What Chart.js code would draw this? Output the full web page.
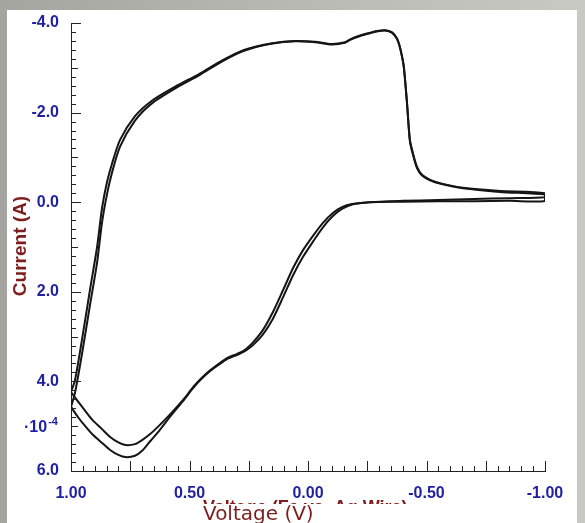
<!DOCTYPE html>
<html>
<head>
<meta charset="utf-8">
<script src="https://cdn.jsdelivr.net/npm/chart.js@4/dist/chart.umd.min.js"></script>
<style>
    body { margin: 0; width: 585px; height: 523px; overflow: hidden;
        background: linear-gradient(90deg, #a4a59f 0%, #b8b9b3 50%, #c8c9c3 100%); }
    #panel { position: absolute; left: 7px; top: 10px; width: 570px; height: 513px; background: #fff; }
    #cv { position: absolute; left: 0; top: 0; }
</style>
</head>
<body>
<div id="panel"></div>
<canvas id="cv" width="585" height="523"></canvas>
<script>
// forward sweep (1.00 V -> -1.00 V), shared voltage grid
const fwdVolt = [1.00, 0.97, 0.94, 0.91, 0.87, 0.835, 0.80, 0.77, 0.73, 0.70, 0.665, 0.625, 0.59, 0.553, 0.52, 0.485, 0.45, 0.413, 0.375, 0.342, 0.31, 0.287, 0.26, 0.232, 0.19, 0.148, 0.105, 0.063, 0.021, -0.021, -0.063, -0.105, -0.143, -0.186, -0.26, -0.40, -0.55, -0.70, -0.85, -1.00];
const fwdCur1 = [4.24, 4.45, 4.66, 4.86, 5.06, 5.24, 5.36, 5.42, 5.40, 5.31, 5.17, 4.97, 4.78, 4.57, 4.37, 4.13, 3.93, 3.75, 3.60, 3.48, 3.41, 3.36, 3.27, 3.13, 2.85, 2.45, 1.96, 1.47, 1.07, 0.75, 0.46, 0.24, 0.11, 0.04, 0.00, -0.01, -0.02, -0.02, -0.03, -0.03];
const fwdCur2 = [4.57, 4.80, 5.00, 5.18, 5.37, 5.53, 5.64, 5.69, 5.66, 5.55, 5.33, 5.08, 4.84, 4.60, 4.39, 4.15, 3.95, 3.77, 3.62, 3.50, 3.43, 3.38, 3.30, 3.19, 2.95, 2.60, 2.12, 1.63, 1.22, 0.88, 0.56, 0.31, 0.15, 0.05, 0.00, -0.03, -0.05, -0.07, -0.09, -0.11];

// reverse sweep (-1.00 V -> 1.00 V)
const revVolt = [-1.00, -0.81, -0.654, -0.56, -0.515, -0.48, -0.46, -0.445, -0.43, -0.418, -0.405, -0.397, -0.385, -0.375, -0.355, -0.325, -0.29, -0.26, -0.22, -0.18, -0.156, -0.10, -0.03, 0.055, 0.15, 0.27, 0.36, 0.46, 0.56, 0.66, 0.73, 0.793, 0.827, 0.848, 0.869, 0.89, 0.92, 0.954, 0.983, 1.00];
const revCur1 = [-0.20, -0.25, -0.32, -0.42, -0.50, -0.62, -0.79, -1.05, -1.39, -2.21, -3.00, -3.25, -3.52, -3.66, -3.79, -3.84, -3.82, -3.78, -3.72, -3.64, -3.57, -3.53, -3.58, -3.60, -3.55, -3.40, -3.17, -2.86, -2.58, -2.26, -1.92, -1.39, -0.86, -0.45, 0.13, 1.00, 1.96, 3.08, 3.97, 4.24];
const revCur2 = [-0.17, -0.23, -0.31, -0.41, -0.49, -0.60, -0.76, -1.02, -1.36, -2.18, -2.98, -3.24, -3.51, -3.65, -3.78, -3.83, -3.81, -3.77, -3.71, -3.63, -3.56, -3.52, -3.57, -3.59, -3.54, -3.38, -3.15, -2.83, -2.54, -2.20, -1.82, -1.24, -0.66, -0.18, 0.45, 1.35, 2.30, 3.40, 4.25, 4.57];

const xLabelVals = [1.00, 0.50, 0.00, -0.50, -1.00];
const yLabelVals = [-4.0, -2.0, 0.0, 2.0, 4.0, 6.0];

function pts(volt, cur) {
    return volt.map((v, i) => ({ x: v, y: cur[i] }));
}

const blue = '#1f1fa3';
const darkRed = '#7d1d1d';

// inward tick marks, axis titles and the 10^-4 factor
const decorations = {
    id: 'decorations',
    afterDraw(chart) {
        const c = chart.ctx;
        const xs = chart.scales.x, ys = chart.scales.y;
        const left = chart.chartArea.left, bottom = chart.chartArea.bottom;
        c.save();
        c.strokeStyle = '#222';
        c.lineWidth = 1;
        c.beginPath();
        for (let i = 0; i <= 40; i++) {
            const v = -1 + i * 0.05;
            const px = Math.round(xs.getPixelForValue(v)) + 0.5;
            const len = (i % 5 === 0) ? 10 : 5;
            c.moveTo(px, bottom);
            c.lineTo(px, bottom - len);
        }
        for (let i = 0; i <= 50; i++) {
            const v = -4 + i * 0.2;
            const py = Math.round(ys.getPixelForValue(v)) + 0.5;
            let len = 5;
            if (i % 10 === 0) len = 10;
            else if (i % 5 === 0) len = 7;
            c.moveTo(left, py);
            c.lineTo(left + len, py);
        }
        c.stroke();

        // y title
        c.fillStyle = darkRed;
        c.font = 'bold 19px "Liberation Sans", Arial, sans-serif';
        c.textAlign = 'center';
        c.textBaseline = 'middle';
        c.translate(21, 246);
        c.rotate(-Math.PI / 2);
        c.fillText('Current (A)', 0, 0);
        c.restore();

        // exponent factor
        c.save();
        c.fillStyle = blue;
        c.font = 'bold 16px "Liberation Sans", Arial, sans-serif';
        c.textBaseline = 'alphabetic';
        c.textAlign = 'left';
        c.fillText('\u00b710', 24, 432);
        const w = c.measureText('\u00b710').width;
        c.font = 'bold 11px "Liberation Sans", Arial, sans-serif';
        c.fillText('-4', 24 + w + 1, 425);
        c.restore();

        // old x title, mostly hidden behind the new one
        c.save();
        c.beginPath();
        c.rect(0, 494, 585, 10);
        c.clip();
        c.fillStyle = darkRed;
        c.font = 'bold 18px "Liberation Sans", Arial, sans-serif';
        c.textAlign = 'left';
        c.textBaseline = 'alphabetic';
        c.fillText('Voltage (Fe vs. Ag Wire)', 203, 513);
        c.restore();

        c.save();
        c.fillStyle = darkRed;
        c.font = '20px "DejaVu Sans", sans-serif';
        c.textAlign = 'left';
        c.textBaseline = 'alphabetic';
        c.fillText('Voltage (V)', 203, 520);
        c.restore();
    }
};

const lineStyle = { showLine: true, pointRadius: 0, borderColor: '#151515', borderWidth: 2, tension: 0.25, fill: false };

new Chart(document.getElementById('cv').getContext('2d'), {
    type: 'scatter',
    data: {
        datasets: [
            Object.assign({ label: 'cycle 1', data: pts(fwdVolt, fwdCur1).concat(pts(revVolt, revCur1)) }, lineStyle),
            Object.assign({ label: 'cycle 2', data: pts(fwdVolt, fwdCur2).concat(pts(revVolt, revCur2)) }, lineStyle)
        ]
    },
    options: {
        responsive: false,
        animation: false,
        devicePixelRatio: 1,
        layout: { padding: { top: 23, right: 40, left: 0, bottom: 0 } },
        plugins: { legend: { display: false }, tooltip: { enabled: false } },
        scales: {
            x: {
                type: 'linear', reverse: true, min: -1, max: 1,
                grid: { display: false },
                border: { display: true, color: '#222', width: 1 },
                afterFit: s => { s.height = 52; },
                afterBuildTicks: s => { s.ticks = xLabelVals.map(v => ({ value: v })); },
                ticks: {
                    autoSkip: false, maxRotation: 0, padding: 5, color: blue,
                    font: { family: '"Liberation Sans", Arial, sans-serif', size: 16, weight: 'bold' },
                    callback: v => (Math.round(v * 100) / 100 + 0).toFixed(2)
                }
            },
            y: {
                type: 'linear', reverse: true, min: -4, max: 6,
                grid: { display: false },
                border: { display: true, color: '#222', width: 1 },
                afterFit: s => { s.width = 71; },
                afterBuildTicks: s => { s.ticks = yLabelVals.map(v => ({ value: v })); },
                ticks: {
                    autoSkip: false, padding: 4, color: blue,
                    font: { family: '"Liberation Sans", Arial, sans-serif', size: 16, weight: 'bold' },
                    callback: v => (Math.round(v * 10) / 10 + 0).toFixed(1)
                }
            }
        }
    },
    plugins: [decorations]
});
</script>
</body>
</html>
